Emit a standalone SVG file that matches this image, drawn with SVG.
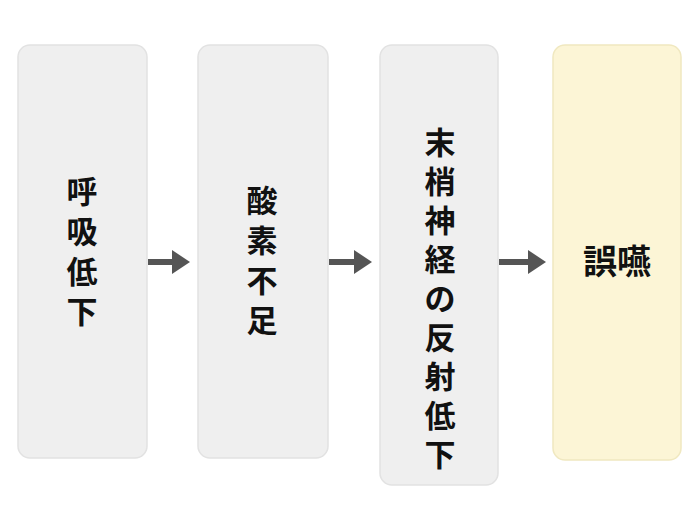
<svg xmlns="http://www.w3.org/2000/svg" width="697" height="515" viewBox="0 0 697 515">
<style>
.box{fill:#efefef;stroke:#e2e2e2;stroke-width:1.5}
.y{fill:#fcf5d6;stroke:#f0e8c0}
.t{font-family:"Noto Sans CJK JP",sans-serif;font-weight:bold;font-size:31px;fill:#111;text-anchor:middle}
.a{stroke:#555;stroke-width:6}
</style>
<defs><marker id="ah" markerWidth="4" markerHeight="4" refX="2" refY="2" orient="auto" markerUnits="strokeWidth"><path d="M0,0L3,2L0,4z" fill="#555"/></marker></defs>
<rect width="697" height="515" fill="#fff"/>
<g id="n1"><rect class="box" x="18" y="45" width="129" height="413" rx="12"/>
<text class="t" x="82"><tspan x="82" y="203">呼</tspan><tspan x="82" y="243">吸</tspan><tspan x="82" y="283">低</tspan><tspan x="82" y="323">下</tspan></text></g>
<g id="n2"><rect class="box" x="198" y="45" width="130" height="413" rx="12"/>
<text class="t" x="262"><tspan x="262" y="212">酸</tspan><tspan x="262" y="252">素</tspan><tspan x="262" y="292">不</tspan><tspan x="262" y="332">足</tspan></text></g>
<g id="n3"><rect class="box" x="380" y="45" width="118" height="440" rx="12"/>
<text class="t" x="440"><tspan x="440" y="154">末</tspan><tspan x="440" y="193">梢</tspan><tspan x="440" y="232">神</tspan><tspan x="440" y="271">経</tspan><tspan x="440" y="310">の</tspan><tspan x="440" y="349">反</tspan><tspan x="440" y="388">射</tspan><tspan x="440" y="427">低</tspan><tspan x="440" y="466">下</tspan></text></g>
<g id="n4"><rect class="box y" x="553" y="45" width="128" height="415" rx="12"/>
<text class="t" x="617" y="274" style="font-size:34px">誤嚥</text></g>
<g id="connectors">
<line class="a" x1="148" y1="262" x2="184" y2="262" marker-end="url(#ah)"/>
<line class="a" x1="329" y1="262" x2="366" y2="262" marker-end="url(#ah)"/>
<line class="a" x1="499" y1="262" x2="540" y2="262" marker-end="url(#ah)"/>
</g>
</svg>
